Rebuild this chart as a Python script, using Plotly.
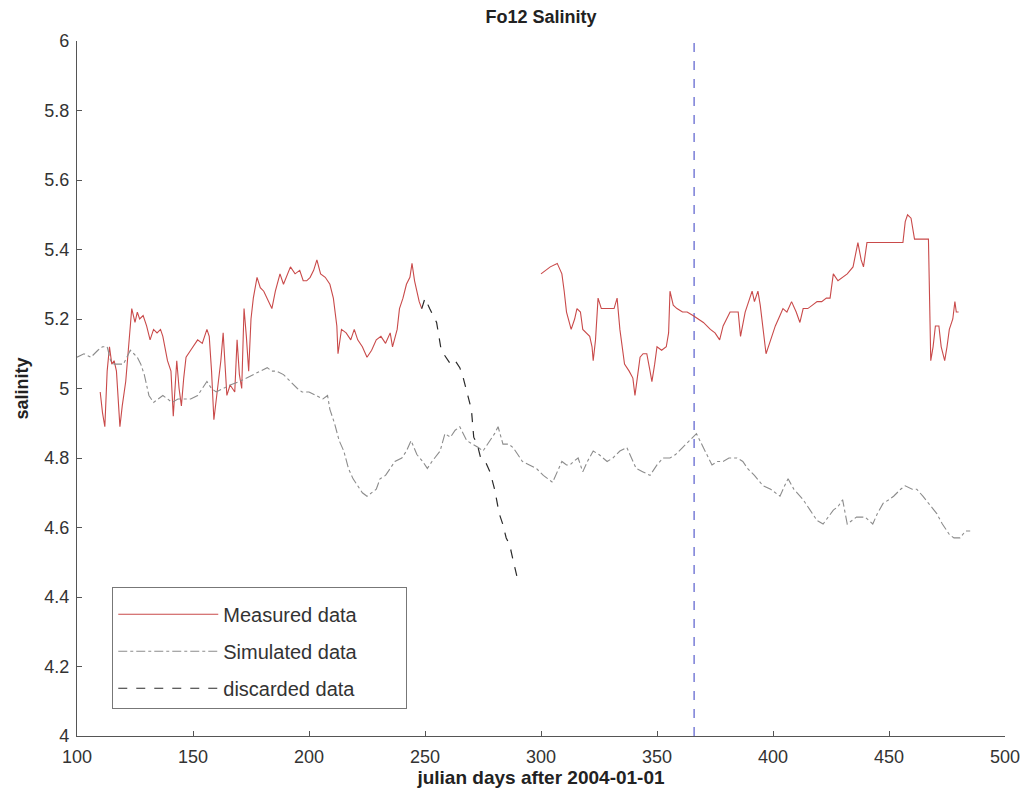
import plotly.graph_objects as go

# Measured salinity (two deployments; None breaks the line across the gap)
measured_day = [
    110, 111, 112, 113, 114, 115, 116, 117, 118.5, 119.5, 121, 122.5, 123.6, 125, 126, 127,
    128.5, 130, 131.5, 133, 134.5, 136, 137, 139, 140.5, 141.5, 142.5, 143, 144, 145, 146,
    147, 149, 152, 154, 156, 157, 158, 159, 160, 161, 162, 163, 164, 164.6, 166, 168, 169,
    170, 171, 172, 173, 174, 175, 176, 177.6, 179, 180.5, 182, 184, 185.5, 187.5, 189, 192,
    194, 196, 197.5, 199, 200.5, 202, 203.4, 205, 207, 209, 210.5, 212, 212.5, 214, 216,
    218, 219.5, 221, 223, 225, 227, 229, 231, 233, 235, 236, 238, 239, 240.5, 242, 243.5,
    244.4, 245.5, 246.5, 247.5, 248.6,
    None,
    300, 302, 304, 307, 309, 310, 311, 313, 314.5, 315.5, 317, 318, 319.5, 321, 322, 322.5,
    323.5, 324.6, 326, 328, 330, 331.5, 332.8, 334, 336, 338, 339.6, 340.5, 341.5, 342.7,
    344, 345.6, 347, 347.8, 349, 350, 352, 354, 355, 355.6, 357, 358.6, 361, 363, 365.5,
    368, 370, 373, 375, 377, 378.5, 380, 381.5, 383, 385, 386, 388, 390, 391, 392, 393.5,
    394.5, 396, 397, 399, 401, 403, 404.3, 406, 408, 410, 411.6, 413, 415, 417, 419, 421,
    423, 424.6, 426, 428, 430, 432, 434.5, 436, 436.6, 438, 439, 440.5, 443, 447, 451, 455,
    456, 457, 458, 459.5, 461, 464, 467, 468, 469, 470, 471.5, 472.5, 474, 475, 476, 477.5,
    478.4, 479, 480,
]
measured_val = [
    4.99, 4.93, 4.89, 5.05, 5.12, 5.07, 5.08, 5.05, 4.89, 4.95, 5.02, 5.15, 5.23, 5.19, 5.22, 5.20,
    5.21, 5.18, 5.14, 5.17, 5.16, 5.17, 5.15, 5.08, 5.05, 4.92, 5.04, 5.08, 5.00, 4.95, 5.03,
    5.09, 5.11, 5.14, 5.13, 5.17, 5.15, 5.05, 4.91, 4.97, 5.02, 5.08, 5.16, 5.05, 4.98, 5.01, 4.99, 5.14,
    5.04, 5.00, 5.23, 5.15, 5.05, 5.20, 5.26, 5.32, 5.29, 5.28, 5.26, 5.23, 5.28, 5.33, 5.30, 5.35,
    5.33, 5.34, 5.31, 5.31, 5.32, 5.34, 5.37, 5.33, 5.32, 5.30, 5.26, 5.18, 5.10, 5.17, 5.16,
    5.14, 5.17, 5.14, 5.12, 5.09, 5.11, 5.14, 5.15, 5.13, 5.16, 5.12, 5.17, 5.23, 5.26, 5.30, 5.32,
    5.36, 5.31, 5.28, 5.25, 5.23,
    None,
    5.33, 5.34, 5.35, 5.36, 5.33, 5.28, 5.22, 5.17, 5.20, 5.23, 5.22, 5.17, 5.16, 5.15, 5.12, 5.08,
    5.14, 5.26, 5.23, 5.23, 5.23, 5.23, 5.26, 5.17, 5.07, 5.05, 5.03, 4.98, 5.03, 5.09,
    5.10, 5.10, 5.05, 5.02, 5.07, 5.12, 5.11, 5.12, 5.16, 5.28, 5.24, 5.23, 5.22, 5.22, 5.21,
    5.20, 5.19, 5.17, 5.16, 5.14, 5.18, 5.20, 5.22, 5.22, 5.22, 5.15, 5.22, 5.26, 5.28, 5.25, 5.28,
    5.24, 5.16, 5.10, 5.14, 5.18, 5.21, 5.23, 5.22, 5.25, 5.22, 5.19, 5.23, 5.23, 5.24, 5.25, 5.25,
    5.26, 5.26, 5.33, 5.31, 5.32, 5.33, 5.35, 5.40, 5.42, 5.37, 5.35, 5.42, 5.42, 5.42, 5.42, 5.42,
    5.42, 5.48, 5.50, 5.49, 5.43, 5.43, 5.43, 5.08, 5.12, 5.18, 5.18, 5.12, 5.08, 5.12, 5.17, 5.20,
    5.25, 5.22, 5.22,
]

# Model output
simulated_day = [
    100, 103, 106, 109, 111, 113, 114.5, 116, 118, 120, 121.5, 123, 124.5, 126, 127.5, 129,
    130, 131, 133, 135, 137, 139, 141, 143.5, 146, 149, 152, 154, 156, 158, 160, 163, 166,
    170, 173, 176, 179, 182, 184, 186, 189, 192, 195, 197, 200, 203, 206, 208, 209, 211,
    213, 215, 217, 219, 221, 223, 225, 227, 229, 230.6, 233, 235, 237, 240, 242, 244, 246.5,
    249, 251, 253, 256.5, 258.6, 261, 263, 265, 268, 270.7, 273, 275, 278, 280, 281.5, 283.6,
    286, 288, 290, 292, 295, 298, 301, 303, 305, 307, 309, 311, 312.5, 314, 316, 318, 320,
    322.5, 325, 328.5, 331, 334, 337, 339, 341, 344, 347, 350, 352.6, 355.6, 358, 361, 364,
    367, 368.5, 370, 372, 373.7, 376, 378.5, 381, 384.5, 387, 389, 392, 395.7, 399, 403, 405,
    406.5, 409, 413, 416, 419, 421.6, 424, 426, 428, 430, 432, 434, 436, 439.7, 443, 445,
    447.5, 450, 452, 455, 457, 460, 462, 464.6, 467, 470.6, 473, 476, 478, 480.6, 483, 485,
]
simulated_val = [
    5.09, 5.10, 5.09, 5.11, 5.12, 5.12, 5.08, 5.07, 5.07, 5.07, 5.09, 5.11, 5.10, 5.09, 5.07, 5.04,
    5.01, 4.98, 4.96, 4.97, 4.98, 4.97, 4.96, 4.97, 4.97, 4.97, 4.98, 5.00, 5.02, 5.00, 4.99, 5.00, 5.01,
    5.02, 5.03, 5.04, 5.05, 5.06, 5.05, 5.05, 5.04, 5.02, 5.00, 4.99, 4.99, 4.98, 4.97, 4.98, 4.94, 4.90,
    4.85, 4.82, 4.77, 4.74, 4.72, 4.70, 4.69, 4.70, 4.71, 4.74, 4.75, 4.77, 4.79, 4.80, 4.82, 4.85, 4.81,
    4.79, 4.77, 4.79, 4.82, 4.87, 4.86, 4.88, 4.89, 4.85, 4.84, 4.83, 4.82, 4.85, 4.87, 4.89, 4.84,
    4.84, 4.83, 4.81, 4.79, 4.78, 4.77, 4.75, 4.74, 4.73, 4.76, 4.79, 4.78, 4.78, 4.79, 4.80, 4.76, 4.79,
    4.82, 4.81, 4.79, 4.80, 4.82, 4.83, 4.80, 4.77, 4.76, 4.75, 4.78, 4.80, 4.80, 4.81, 4.83, 4.85,
    4.87, 4.85, 4.83, 4.80, 4.78, 4.79, 4.79, 4.80, 4.80, 4.79, 4.77, 4.75, 4.72, 4.71, 4.69, 4.72,
    4.74, 4.71, 4.68, 4.65, 4.62, 4.61, 4.63, 4.65, 4.66, 4.68, 4.61, 4.62, 4.63, 4.63, 4.61, 4.64,
    4.67, 4.68, 4.69, 4.71, 4.72, 4.71, 4.71, 4.69, 4.67, 4.64, 4.61, 4.58, 4.57, 4.57, 4.59, 4.59,
]

# Drifting sensor record, excluded from the comparison
discarded_day = [
    248.6, 250, 252, 255, 257, 259, 261, 263, 265, 266.5, 268, 270, 271, 272.5, 274, 276,
    278, 280, 282, 283.5, 285, 286.5, 287.5, 289.6, 290.5,
]
discarded_val = [
    5.23, 5.26, 5.23, 5.19, 5.11, 5.09, 5.07, 5.08, 5.06, 5.03, 4.99, 4.94, 4.86, 4.84, 4.80, 4.79,
    4.76, 4.71, 4.64, 4.61, 4.57, 4.55, 4.52, 4.46, 4.45,
]

# Year boundary marker (2005-01-01)
marker_day = 366
y_range = [4, 6]

x_ticks = [100, 150, 200, 250, 300, 350, 400, 450, 500]
y_ticks = [4, 4.2, 4.4, 4.6, 4.8, 5, 5.2, 5.4, 5.6, 5.8, 6]
y_tick_text = ["4", "4.2", "4.4", "4.6", "4.8", "5", "5.2", "5.4", "5.6", "5.8", "6"]

FONT = "Liberation Sans, Arial, sans-serif"
PAD = "\u00a0" * 8  # widens the legend box to leave room after the labels

fig = go.Figure()

fig.add_trace(go.Scatter(
    x=[marker_day, marker_day], y=y_range, mode="lines",
    line=dict(color="#6f74d4", width=1.4, dash="dash"),
    showlegend=False, hoverinfo="skip",
))
fig.add_trace(go.Scatter(
    x=measured_day, y=measured_val, mode="lines", name="Measured data",
    line=dict(color="#c94a4a", width=1.1), connectgaps=False, legendgroup="a",
))
fig.add_trace(go.Scatter(
    x=simulated_day, y=simulated_val, mode="lines", name="Simulated data" + PAD,
    line=dict(color="#8c8c8c", width=1.1, dash="dashdot"), legendgroup="b",
))
fig.add_trace(go.Scatter(
    x=discarded_day, y=discarded_val, mode="lines", name="discarded data",
    line=dict(color="#2a2a2a", width=1.2, dash="dash"), legendgroup="c",
))

axis_common = dict(
    showline=True, linecolor="#555", linewidth=1.2, mirror=False,
    ticks="inside", ticklen=5, tickcolor="#555", tickwidth=1,
    showgrid=False, zeroline=False, automargin=False,
    tickfont=dict(family=FONT, size=18, color="#333"),
)

fig.update_layout(
    width=1028, height=794,
    margin=dict(l=77, r=23, t=41, b=58),
    paper_bgcolor="white", plot_bgcolor="white",
    title=dict(text="<b>Fo12 Salinity</b>", x=541 / 1028, xanchor="center",
               y=1 - 17 / 794, yanchor="middle",
               font=dict(family=FONT, size=18, color="#222")),
    xaxis=dict(range=[100, 500], tickvals=x_ticks, ticklabelstandoff=4,
               title=dict(text="<b>julian days after 2004-01-01</b>", standoff=4,
                          font=dict(family=FONT, size=19, color="#222")),
               **axis_common),
    yaxis=dict(range=y_range, tickvals=y_ticks, ticktext=y_tick_text, ticklabelstandoff=3,
               title=dict(text="<b>salinity</b>", standoff=10,
                          font=dict(family=FONT, size=18, color="#222")),
               **axis_common),
    legend=dict(x=0.038, y=0.214, xanchor="left", yanchor="top",
                bgcolor="white", bordercolor="#777", borderwidth=1,
                font=dict(family=FONT, size=20, color="#333"),
                title=dict(text=" ", font=dict(size=5)),
                itemwidth=100, traceorder="grouped", tracegroupgap=8),
    showlegend=True,
)

fig.write_html("out.html")
